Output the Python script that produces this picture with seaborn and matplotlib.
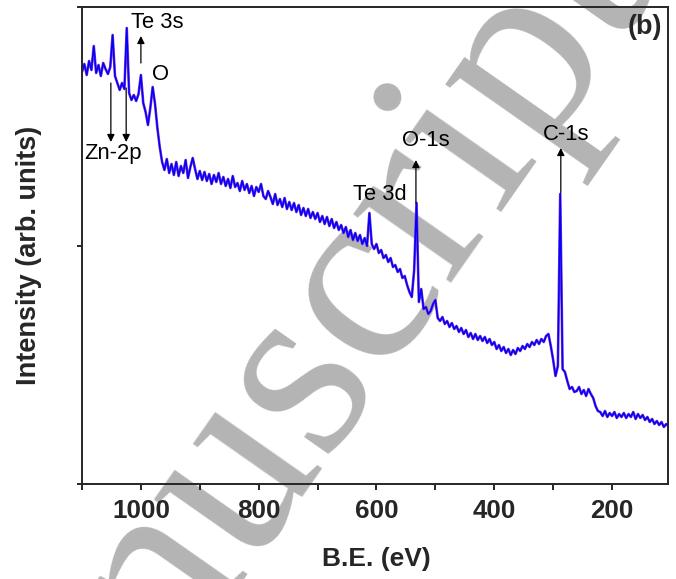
import numpy as np
import pandas as pd
import matplotlib
matplotlib.use("Agg")
import matplotlib.pyplot as plt
import seaborn as sns

# ---------------- data ----------------
be_start, be_stop, be_step = 1100, 103, -4          # binding-energy sampling (eV)
intensity = [
    412, 420, 409, 423, 414, 438, 411, 419, 408, 421,   # 1100-1064
    415, 410, 417, 449, 408, 401, 394, 401, 395, 456,   # 1060-1024
    391, 384, 389, 383, 390, 409, 381, 372, 359, 376,   # 1020-984
    397, 380, 356, 337, 322, 314, 325, 311, 320, 309,   # 980-944
    322, 308, 318, 311, 324, 306, 317, 326, 315, 305,   # 940-904
    313, 304, 312, 303, 310, 300, 309, 302, 311, 300,   # 900-864
    307, 298, 305, 296, 308, 297, 301, 293, 303, 294,   # 860-824
    300, 291, 298, 288, 297, 292, 300, 288, 285, 293,   # 820-784
    287, 280, 290, 279, 285, 277, 286, 275, 282, 274,   # 780-744
    281, 272, 279, 269, 276, 268, 275, 266, 272, 265,   # 740-704
    271, 262, 268, 260, 267, 258, 265, 256, 262, 254,   # 700-664
    259, 251, 257, 247, 254, 244, 251, 243, 249, 240,   # 660-624
    246, 238, 271, 240, 235, 240, 231, 234, 226, 229,   # 620-584
    222, 226, 217, 219, 212, 215, 206, 208, 199, 192,   # 580-544
    187, 214, 281, 182, 195, 175, 177, 170, 173, 180,   # 540-504
    184, 166, 163, 167, 160, 163, 157, 161, 155, 158,   # 500-464
    152, 156, 150, 154, 147, 151, 145, 150, 144, 148,   # 460-424
    143, 147, 141, 145, 139, 142, 135, 139, 133, 137,   # 420-384
    131, 135, 129, 134, 130, 136, 133, 138, 135, 140,   # 380-344
    137, 142, 139, 144, 140, 145, 142, 148, 150, 138,   # 340-304
    124, 108, 118, 290, 115, 112, 103, 95, 97, 92,      # 300-264
    93, 97, 90, 94, 88, 95, 90, 86, 78, 73,             # 260-224
    72, 68, 73, 67, 71, 68, 72, 66, 70, 67,             # 220-184
    71, 66, 70, 67, 72, 65, 70, 66, 69, 64,             # 180-144
    67, 62, 65, 60, 63, 59, 62, 57, 60, 58,             # 140-104
]
be = np.arange(be_start, be_stop, be_step)

x_major = [1000, 800, 600, 400, 200]
x_minor = [1100, 900, 700, 500, 300]

# annotations: (label, text x, text y)
labels_plain = [("Te 3s", 973, 461), ("O", 966, 409), ("Zn-2p", 1047, 331),
                ("Te 3d", 594, 289), ("O-1s", 516, 344), ("C-1s", 278, 349)]
# arrows: (x, y_from, y_to)
arrows = [(1000, 421, 448), (1051, 401, 342), (1025, 396, 342),
          (533, 281, 324), (287, 291, 336)]

df = pd.DataFrame({"BE": be, "Intensity": intensity})

# ---------------- plot ----------------
sns.set_style("ticks")
plt.rcParams["font.family"] = ["Liberation Sans", "DejaVu Sans"]

fig = plt.figure(figsize=(6.76, 5.79), dpi=100)
fig.patch.set_facecolor("white")
ax = fig.add_axes([82 / 676, 1 - 484 / 579, 586 / 676, 477 / 579])
ax.patch.set_alpha(0)

# watermark (under everything)
fig.text(-0.038, -0.648, "Manuscript", rotation=55, rotation_mode="anchor",
         ha="left", va="baseline", fontsize=187, family="Liberation Serif",
         color="#b4b4b4", zorder=-5)

sns.lineplot(data=df, x="BE", y="Intensity", sort=False, estimator=None,
             color="#8a3fc8", lw=1.9, ax=ax)
sns.lineplot(data=df, x="BE", y="Intensity", sort=False, estimator=None,
             color="#0000ff", lw=1.1, ax=ax)

ax.set_xlim(1100, 105)
ax.set_ylim(0, 477)
ax.set_xticks(x_major)
ax.set_xticks(x_minor, minor=True)
ax.set_yticks([0, 238.5, 477])
ax.set_yticklabels([])
for lab in ax.get_xticklabels():
    lab.set_fontweight("bold")
ax.tick_params(axis="x", which="both", direction="out", length=4.5, width=1.4,
               labelsize=18.7, pad=6)
ax.tick_params(axis="y", which="both", direction="out", length=3.6, width=1.4)
for s in ax.spines.values():
    s.set_linewidth(1.4)
    s.set_visible(True)

ax.set_xlabel("B.E. (eV)", fontsize=19, fontweight="bold")
ax.set_ylabel("Intensity (arb. units)", fontsize=19.5, fontweight="bold")
ax.xaxis.set_label_coords(0.502, -0.132)
ax.yaxis.set_label_coords(-0.068, 0.48)

for txt, tx, ty in labels_plain:
    ax.text(tx, ty, txt, fontsize=15.8, ha="center", va="center", color="black")
for x, y0, y1 in arrows:
    ax.annotate("", xy=(x, y1), xytext=(x, y0),
                arrowprops=dict(arrowstyle="-|>", color="black", lw=0.9,
                                mutation_scale=11, shrinkA=0, shrinkB=0))

ax.text(0.961, 0.958, "(b)", transform=ax.transAxes, fontsize=19.5,
        fontweight="bold", ha="center", va="center")

fig.savefig("out.png", dpi=100)
